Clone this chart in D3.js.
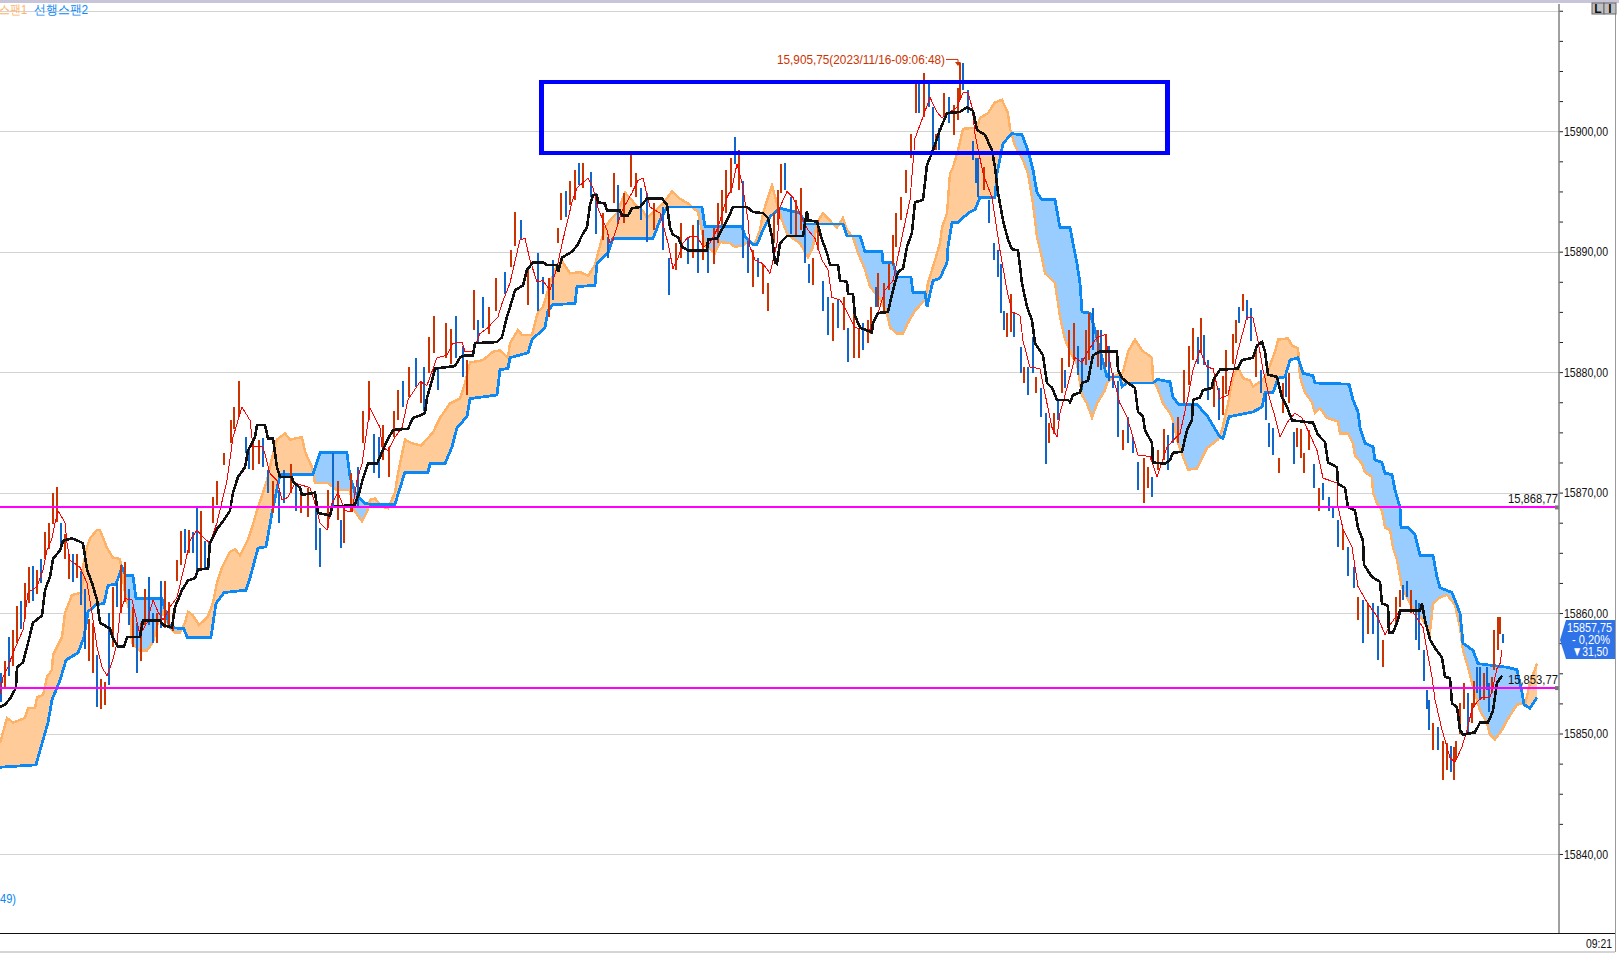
<!DOCTYPE html>
<html><head><meta charset="utf-8">
<script src="https://cdn.jsdelivr.net/npm/d3@7"></script>
<style>
html,body{margin:0;padding:0;background:#fff;overflow:hidden}
svg{display:block}
text{font-family:"Liberation Sans",sans-serif}
</style></head><body><svg id="c" width="1619" height="953"></svg>
<script>
// all prices are stored relative to this base
const priceBase = 15800;
const axisPrices = [40,42.5,45,47.5,50,52.5,55,57.5,60,62.5,65,67.5,70,72.5,75,77.5,80,82.5,85,87.5,90,92.5,95,97.5,100,102.5,105,107.5,110];
const levelPrices = [68.77,53.77];
const levelLabels = ["15,868,77","15,853,77"];
const peakPrice = 105.75, peakTick = 958;
const peakLabel = "15,905,75(2023/11/16-09:06:48)";
const boxTicks = [541.5,1167.5], boxPrices = [104.1,98.2];
const tagLines = ["15857,75","- 0,20%","\u25BC31,50"];

const span2Tick = [0,36,40,48,52,60,66,78,84,88,96,104,108,116,122,126,133,136,162,170,184,187,211,216,224,246,250,258,266,272,280,313,320,347,350,355,365,372,395,397,405,428,430,445,452,457,467,470,497,500,508,510,528,532,545,548,553,575,577,595,597,608,613,653,660,667,702,705,742,745,753,757,763,770,780,800,805,843,847,860,865,882,883,893,897,911,913,925,927,933,940,947,948,952,958,968,975,980,995,997,1003,1012,1022,1028,1033,1037,1042,1055,1060,1070,1077,1080,1082,1090,1095,1100,1107,1120,1122,1127,1153,1157,1170,1173,1179,1197,1207,1220,1223,1229,1253,1262,1265,1273,1278,1285,1290,1298,1303,1313,1315,1349,1353,1358,1360,1365,1373,1375,1382,1385,1392,1395,1400,1401,1408,1415,1420,1433,1437,1440,1452,1460,1463,1473,1478,1507,1517,1522,1524,1530,1537];
const span2Price = [47.2,47.4,48.6,50.9,52.8,54.4,56.1,56.7,58.0,60.1,60.7,60.8,62.3,62.4,63.8,63.1,63.1,61.2,61.2,58.8,58.7,58.0,58.0,60.8,61.7,61.9,62.9,65.4,65.5,68.3,71.5,71.5,73.3,73.3,71.3,70.0,69.1,69.0,69.0,69.6,71.7,71.7,72.4,72.4,73.8,75.4,76.3,77.8,78.1,80.2,80.3,81.2,81.6,82.7,83.7,85.1,85.6,85.7,87.1,87.2,89.0,89.9,91.1,91.1,92.6,93.7,93.7,92.1,92.1,91.3,90.6,90.6,91.8,92.9,93.6,93.2,92.3,92.3,91.3,91.3,90.0,90.0,89.1,89.1,87.9,87.9,86.6,86.6,85.4,87.6,87.8,89.1,90.4,92.4,92.4,93.2,93.5,94.5,94.5,96.5,99.0,99.8,99.7,98.4,96.8,94.9,94.3,94.3,92.0,92.0,89.0,87.4,85.0,84.9,83.5,81.8,79.6,79.6,78.8,79.1,79.1,79.4,79.2,77.9,77.3,77.3,76.4,74.6,74.5,76.3,76.7,77.1,78.3,78.3,79.5,79.6,81.0,81.2,79.9,79.7,79.1,79.0,77.7,76.7,75.4,74.1,73.8,72.7,72.5,71.6,71.5,70.2,68.8,67.1,67.1,66.5,64.8,64.8,63.0,62.1,61.7,60.0,57.5,56.9,55.8,55.5,55.3,53.4,52.4,52.1,53.0];

const span1Tick = [0,7,13,25,28,35,37,43,47,52,53,62,65,72,82,83,87,90,97,100,107,113,120,122,125,130,132,140,147,153,158,163,170,175,180,185,188,193,199,208,213,217,222,230,235,240,248,252,258,263,267,272,277,285,290,302,305,312,315,328,337,350,353,362,367,370,375,383,388,395,398,405,412,421,433,440,450,460,465,470,483,493,500,508,510,518,522,532,535,538,543,550,557,563,570,580,588,595,600,605,610,617,625,632,635,643,647,655,663,672,680,688,698,705,715,720,730,735,742,748,755,760,763,768,772,777,782,787,793,800,808,813,817,823,832,837,843,847,853,858,865,870,880,887,890,897,903,908,915,925,928,935,940,942,947,950,953,958,963,977,980,988,995,1002,1008,1010,1015,1023,1028,1033,1037,1042,1045,1055,1060,1065,1073,1077,1082,1087,1092,1097,1105,1107,1113,1123,1128,1135,1142,1152,1153,1157,1163,1170,1173,1178,1183,1188,1197,1207,1218,1222,1228,1233,1238,1243,1250,1253,1262,1267,1275,1278,1288,1292,1298,1300,1305,1312,1315,1320,1327,1338,1340,1348,1353,1355,1362,1365,1372,1373,1377,1382,1385,1390,1393,1397,1402,1410,1423,1430,1433,1440,1447,1455,1460,1463,1468,1473,1480,1487,1490,1495,1502,1507,1517,1523,1525,1530,1537];
const span1Price = [49.2,51.3,50.9,51.3,52.1,52.1,53.0,53.2,54.7,55.3,56.5,58.0,60.0,61.5,61.7,63.8,65.5,66.2,66.9,66.9,65.4,64.6,64.5,63.3,61.7,60.0,57.5,56.9,56.9,57.6,59.2,60.1,58.8,58.4,58.4,59.2,60.1,59.8,59.0,59.7,60.9,62.5,63.8,65.1,65.3,64.8,66.1,67.1,68.8,70.0,71.0,72.9,74.4,74.9,74.4,74.6,73.4,72.1,70.8,70.8,70.2,70.2,68.7,67.6,68.4,69.4,69.5,68.8,68.7,70.0,71.6,74.4,74.1,73.9,75.0,76.2,77.4,77.8,79.1,80.8,81.0,81.7,81.8,81.2,82.4,83.5,83.1,83.1,84.1,85.0,85.4,87.4,88.9,89.1,88.2,88.3,88.0,88.9,90.5,92.0,92.6,93.2,94.9,94.3,93.9,93.4,92.8,93.4,94.0,95.0,94.4,94.0,93.3,90.5,89.9,90.8,90.7,90.4,90.5,90.8,90.7,91.8,93.2,94.5,95.5,94.0,92.6,91.5,91.1,90.7,89.5,90.4,92.4,93.2,92.4,92.0,92.8,91.8,91.2,89.9,88.5,87.1,86.1,84.9,83.7,83.2,83.2,84.1,85.1,86.0,87.4,89.3,90.7,92.0,93.2,96.5,97.0,98.4,100.2,100.3,101.1,101.5,102.4,102.6,101.5,100.2,98.8,97.6,96.5,94.0,91.2,89.5,88.2,87.4,84.6,82.7,81.2,80.7,78.1,77.4,76.2,77.4,78.5,79.1,79.6,80.0,81.7,82.7,81.8,81.2,79.2,78.8,77.4,76.6,76.0,74.1,73.0,71.9,72.0,73.7,74.4,75.2,77.4,79.6,80.4,79.5,79.3,78.8,79.3,79.9,81.7,82.7,82.8,82.2,82.0,79.6,78.3,77.5,76.6,77.0,76.2,75.9,74.9,74.9,74.1,73.1,72.4,71.7,71.3,70.0,69.1,68.5,67.1,66.9,65.4,64.4,62.1,60.8,59.4,58.4,60.8,61.3,61.5,60.7,58.8,56.9,55.5,53.9,51.9,50.9,49.9,49.5,50.3,51.1,52.4,52.5,52.4,54.2,55.8];

const baseTick = [0,5,10,16,17,23,28,33,42,45,50,53,60,63,72,78,83,87,92,97,100,110,113,118,124,127,140,143,160,163,172,175,182,188,195,198,208,210,217,222,230,233,238,245,248,255,257,265,268,273,277,280,292,293,300,302,315,318,330,332,355,360,363,368,377,387,393,408,413,420,425,427,432,435,455,460,465,473,475,497,502,507,513,515,523,527,533,543,547,557,558,562,572,577,583,587,590,593,597,598,605,607,620,622,628,632,640,647,662,667,670,673,678,682,688,707,708,717,727,733,747,753,763,768,772,775,777,780,787,803,807,808,817,822,827,830,838,840,847,848,853,855,860,872,873,878,888,893,898,903,907,912,915,923,927,932,940,947,960,967,973,977,985,992,995,998,1003,1008,1012,1018,1022,1027,1032,1035,1043,1047,1052,1057,1068,1070,1073,1080,1082,1088,1093,1100,1117,1118,1122,1128,1135,1138,1143,1145,1152,1153,1165,1170,1173,1182,1187,1192,1193,1200,1203,1212,1213,1220,1238,1242,1253,1257,1262,1265,1268,1277,1282,1287,1292,1313,1318,1325,1328,1337,1338,1345,1348,1355,1358,1363,1364,1372,1380,1382,1388,1389,1393,1398,1400,1420,1422,1425,1430,1435,1442,1445,1450,1452,1457,1460,1463,1475,1480,1488,1493,1497,1502];
const basePrice = [52.2,52.4,52.9,53.8,55.5,55.9,57.5,59.2,59.8,61.9,63.0,64.5,65.2,66.0,66.2,66.0,65.8,63.6,62.5,61.1,59.2,58.7,57.9,57.2,57.2,58.0,58.0,59.4,59.4,59.0,58.8,60.5,61.9,62.7,62.9,63.6,63.7,65.8,67.0,67.5,68.5,70.0,71.3,72.1,73.5,74.6,75.6,75.6,74.5,74.5,72.1,71.3,71.3,70.9,70.4,69.8,70.0,68.3,68.1,68.8,69.0,70.2,71.2,72.4,72.4,74.3,75.2,75.3,76.2,76.4,76.6,77.9,79.3,80.3,80.5,81.2,81.4,81.4,82.4,82.5,82.9,84.6,86.2,86.8,87.2,88.5,89.1,89.1,88.9,88.9,88.3,89.5,90.0,90.5,91.5,92.0,93.9,94.7,94.7,94.1,94.0,93.4,93.4,93.0,93.0,93.6,93.7,94.4,94.4,93.9,92.0,91.4,91.2,90.4,90.1,90.1,91.0,91.1,92.6,93.7,93.7,93.3,93.2,92.8,91.2,89.1,89.0,90.7,91.3,91.3,93.4,92.6,92.5,91.0,89.9,88.9,88.9,87.6,87.5,86.5,86.5,84.7,83.7,83.3,84.1,84.9,85.0,86.8,88.3,88.6,90.4,91.6,94.1,94.3,97.2,98.2,100.1,101.5,101.6,102.0,101.7,100.1,99.7,98.4,97.0,94.9,92.6,91.0,90.2,90.1,87.4,85.4,84.3,82.4,81.4,79.1,78.7,77.7,77.7,77.5,78.1,78.3,79.1,79.3,81.4,81.7,81.7,80.2,79.5,79.1,78.7,76.7,76.3,75.2,74.1,72.5,72.4,72.7,73.3,73.4,75.2,76.0,77.7,77.9,78.5,78.7,79.3,80.2,80.3,81.0,81.2,82.2,82.5,81.7,79.8,79.6,77.9,77.1,76.0,75.8,74.8,74.2,72.5,72.1,70.7,70.4,68.8,68.5,67.1,66.0,64.0,63.0,62.6,60.8,60.6,58.4,58.4,59.4,60.2,60.2,60.8,59.4,57.8,57.1,56.3,54.7,54.6,52.5,52.2,50.3,49.9,50.1,50.9,50.9,51.9,54.2,54.8];

const maTick = [0,3,8,13,23,28,37,43,47,52,55,58,65,67,70,80,87,92,97,102,107,112,117,120,125,132,140,147,153,158,163,170,177,185,190,197,203,210,217,223,227,233,242,250,253,263,270,277,282,288,295,310,315,320,327,332,338,345,352,357,362,370,380,382,388,395,402,408,420,427,437,447,453,462,465,473,480,488,498,502,510,520,525,530,537,543,550,557,563,572,577,588,593,598,603,607,610,613,622,632,638,643,650,660,668,673,678,683,688,697,703,710,718,727,732,737,742,748,750,755,763,770,777,780,787,793,802,808,815,822,828,832,840,847,855,865,870,877,885,893,900,905,910,915,923,930,937,942,948,957,963,968,972,975,983,992,1000,1007,1012,1020,1023,1030,1040,1047,1052,1057,1060,1067,1075,1082,1087,1097,1105,1112,1120,1127,1133,1138,1150,1157,1167,1180,1188,1193,1200,1207,1213,1220,1228,1238,1247,1253,1258,1263,1270,1275,1280,1287,1295,1302,1310,1317,1323,1337,1338,1343,1352,1358,1367,1378,1385,1390,1400,1412,1423,1427,1432,1435,1442,1450,1455,1462,1467,1472,1477,1482,1490,1493,1497,1500,1502];
const maPrice = [53.3,54.7,55.5,56.7,58.6,61.7,62.2,63.6,65.2,66.2,67.5,68.5,67.5,65.8,64.4,63.8,62.5,60.0,57.2,55.5,54.8,55.9,57.5,60.0,61.2,61.1,58.2,59.2,61.1,60.1,59.4,60.5,61.3,64.1,66.0,66.9,66.3,65.8,67.5,69.6,71.0,74.6,77.1,76.0,73.8,73.8,71.6,71.0,69.4,69.6,70.8,70.4,69.1,67.5,66.9,69.1,70.0,68.5,68.4,71.0,72.4,77.0,75.4,73.8,73.5,74.6,75.4,77.7,79.2,78.9,81.2,81.4,82.4,82.5,81.7,81.7,83.2,83.7,84.6,85.7,87.4,91.0,91.1,89.3,87.5,87.6,86.8,88.7,91.0,94.1,95.3,96.1,95.3,93.6,92.6,91.8,90.7,91.0,93.4,94.9,95.9,96.1,93.7,93.2,90.7,88.6,89.5,90.7,91.2,91.3,90.4,90.7,92.0,94.5,95.3,97.3,95.7,92.6,90.4,89.3,89.0,88.2,90.7,93.7,95.0,94.5,92.8,91.8,91.1,89.3,88.5,86.2,86.0,85.0,83.7,83.5,83.5,84.6,86.8,87.6,90.4,92.4,94.3,99.4,101.2,102.8,101.6,101.1,101.5,102.0,103.2,103.2,102.0,99.8,96.5,94.5,90.1,86.8,85.0,84.7,82.6,80.4,80.3,77.4,75.4,74.6,76.6,78.7,81.2,80.8,81.6,82.9,83.1,79.9,77.4,76.3,74.6,73.1,73.0,71.3,73.8,74.9,77.9,80.2,81.8,80.4,80.3,77.8,78.1,81.8,84.6,84.5,82.6,80.2,77.7,76.3,74.6,75.8,76.6,76.2,74.8,73.5,71.2,70.8,68.8,67.0,65.5,62.2,60.9,59.6,58.2,59.0,60.2,60.2,58.8,56.9,54.7,52.8,50.3,48.0,47.6,48.9,50.3,52.0,52.6,53.0,53.0,53.9,55.4,55.8,56.9];

const barTick = [0,4,8,12,16,20,24,28,32,36,
40,44,48,52,56,60,64,68,72,76,
80,84,88,92,96,100,104,108,112,116,
120,124,128,132,136,140,144,148,152,156,
160,164,168,172,176,180,184,188,192,196,
200,204,208,212,216,
223,230,233,238,245,248,252,258,262,267,
272,278,283,290,295,300,307,315,319,327,
332,337,340,343,350,357,362,368,373,378,
382,388,393,397,402,408,415,420,423,428,
433,437,445,450,455,462,466,473,477,482,
488,495,504,510,514,520,527,537,542,548,
552,557,560,565,569,574,578,582,590,595,
602,607,613,617,623,630,635,640,646,653,
662,668,675,680,687,692,697,702,707,713,
717,721,725,730,734,738,742,747,752,757,
762,767,773,777,780,784,790,795,800,804,
808,812,817,822,827,832,837,843,847,853,
858,862,867,870,875,877,883,888,892,895,
900,905,910,915,918,923,928,932,935,938,
943,948,953,957,959,962,967,972,975,977,
983,988,993,997,1000,1003,1006,1010,1013,1020,
1023,1027,1032,1035,1040,1045,1048,1053,1057,1061,
1064,1068,1073,1077,1081,1085,1088,1092,1097,1100,
1105,1108,1112,1117,1122,1127,1132,1137,1143,1147,
1151,1157,1163,1167,1172,1177,1183,1188,1192,1197,
1200,1203,1207,1213,1218,1222,1225,1232,1235,1238,
1242,1246,1250,1255,1260,1265,1268,1272,1278,1282,
1285,1288,1293,1296,1300,1303,1308,1313,1318,1322,
1328,1332,1337,1342,1347,1353,1357,1362,1367,1372,
1377,1382,1388,1395,1399,1402,1406,1410,1415,1418,
1423,1426,1428,1432,1437,1442,1446,1450,1453,1455,
1459,1463,1467,1471,1473,1476,1479,1483,1486,1488,
1491,1493,1497,1499,1502];
const barHigh = [55.0,56.0,58.0,58.6,60.6,61.0,62.5,63.8,63.9,63.6,
64.5,66.7,67.5,70.0,70.5,67.5,66.6,64.8,64.9,64.9,
63.5,62.0,59.5,59.2,56.5,54.5,54.3,60.0,62.2,62.5,
64.0,64.2,62.0,60.5,59.2,59.2,62.0,63.0,60.0,60.0,
62.7,62.7,60.9,60.0,64.4,66.8,67.0,66.9,66.7,68.7,
68.5,66.0,65.8,69.6,71.0,
73.3,76.0,77.1,79.3,74.6,73.8,74.4,74.4,74.5,71.9,
71.0,70.2,71.9,72.4,70.8,70.2,70.4,69.4,67.1,70.2,
73.3,71.0,67.7,68.8,71.6,72.1,76.8,79.3,74.9,74.6,
75.6,73.8,76.8,78.5,79.3,80.4,81.2,79.3,80.4,82.9,
84.7,80.4,84.1,83.6,84.7,82.2,81.0,86.8,84.3,86.2,
85.4,87.8,88.3,90.1,93.3,92.6,88.5,89.9,87.9,87.8,
89.3,92.0,94.9,95.0,95.9,96.8,97.4,97.4,96.6,94.9,
93.2,91.2,96.5,95.5,94.9,98.2,96.5,95.3,94.9,94.0,
93.7,89.5,90.7,92.4,91.2,92.2,92.6,91.8,90.7,92.0,
94.0,95.1,96.8,97.8,99.5,98.4,95.9,90.9,90.1,89.5,
89.0,87.4,93.2,95.1,97.3,97.4,94.5,94.3,95.3,92.2,
89.0,89.5,92.6,87.6,86.2,85.7,86.0,86.2,83.7,84.9,
83.7,84.1,84.3,85.4,87.1,88.2,87.4,89.0,91.4,93.2,
94.5,96.8,99.8,104.2,104.0,104.8,104.2,102.0,99.8,100.3,
103.2,102.8,102.2,103.6,105.7,105.7,103.4,99.2,97.8,97.8,
97.0,94.3,90.7,90.1,89.0,85.1,84.9,86.5,84.9,82.1,
80.4,80.4,82.9,79.6,78.7,76.6,75.8,76.6,77.7,81.2,
80.2,83.5,84.1,82.2,81.2,83.5,84.9,85.3,83.5,83.5,
83.2,82.2,79.9,79.3,75.2,76.3,74.6,72.5,72.9,72.1,
71.3,73.5,75.3,74.8,75.8,76.3,80.2,82.2,83.7,82.9,
84.5,83.1,81.0,79.3,78.7,79.7,81.8,83.2,84.3,85.4,
86.5,86.0,85.3,81.8,80.2,78.3,75.8,75.4,72.9,79.1,
79.6,79.9,75.0,75.4,75.3,73.3,75.2,72.4,70.4,70.8,
69.6,68.8,67.7,67.0,65.5,63.8,61.3,61.1,60.8,60.8,
60.6,57.8,60.2,61.3,61.9,62.3,62.7,61.9,61.1,60.8,
56.9,53.6,52.8,50.9,50.5,49.4,49.2,49.0,48.9,49.4,
52.5,54.2,53.4,52.5,54.4,55.5,55.5,55.0,55.5,54.2,
54.7,58.6,59.7,59.7,58.3];
const barLow = [52.6,53.8,54.8,55.6,57.5,58.7,59.5,60.8,61.0,61.6,
62.5,64.5,65.3,67.4,67.6,65.5,64.5,62.8,62.6,62.9,
60.7,57.0,56.0,55.0,52.2,52.0,52.4,54.0,57.2,60.5,
60.0,60.9,59.0,57.2,55.0,56.0,59.0,59.0,57.5,57.5,
58.8,58.8,58.8,58.5,62.7,64.0,65.0,65.0,65.0,63.5,
63.6,63.6,63.7,67.5,69.0,
72.3,74.1,75.3,76.3,73.3,72.0,71.9,72.4,72.1,70.0,
68.3,67.5,69.1,70.0,68.5,68.3,68.0,65.2,63.8,67.1,
68.8,67.7,65.4,65.8,68.5,68.8,74.1,76.0,71.6,71.2,
72.7,71.3,74.6,76.0,77.1,77.9,78.8,77.4,76.8,79.9,
81.6,78.5,81.2,80.7,81.2,79.6,78.1,83.5,82.5,83.7,
83.2,85.1,86.5,88.7,90.5,91.0,85.6,85.1,86.5,84.6,
86.0,90.7,92.6,92.9,93.9,94.3,95.5,95.3,94.5,91.5,
91.0,89.5,94.0,92.4,92.4,95.4,94.5,92.6,90.8,91.8,
90.1,86.4,88.5,89.5,89.0,89.5,88.2,89.3,88.2,89.0,
90.7,92.2,93.2,94.9,97.3,95.1,89.5,88.2,87.1,87.9,
86.5,85.1,90.7,92.2,94.9,95.1,91.5,91.4,91.8,89.1,
87.4,87.2,90.1,85.1,83.1,82.6,83.7,83.5,80.8,81.2,
81.2,81.8,82.4,83.2,85.4,85.4,84.9,86.8,88.9,90.4,
92.6,94.9,97.8,101.5,101.5,101.2,102.0,98.4,98.4,98.4,
101.2,100.7,99.7,100.9,102.6,103.4,101.5,97.6,95.7,94.5,
95.1,92.4,89.3,87.9,84.9,83.5,82.9,83.3,82.9,79.9,
79.1,78.1,79.9,78.3,76.3,72.4,74.1,74.9,76.0,78.3,
78.7,80.4,81.0,79.8,78.5,80.6,81.0,81.8,80.4,80.2,
80.4,79.3,78.7,74.6,73.5,74.1,73.3,70.2,69.1,70.4,
69.6,71.9,72.7,71.9,74.1,74.1,77.4,78.9,81.0,80.7,
81.6,80.6,77.7,77.1,76.0,76.4,78.2,80.7,82.4,84.1,
85.1,84.3,82.6,79.6,78.3,76.0,73.8,73.1,71.6,76.6,
77.9,77.4,72.4,73.8,72.9,71.6,73.5,70.4,68.5,69.4,
68.5,67.9,65.5,65.2,63.1,62.1,59.4,57.5,58.3,58.3,
56.1,55.5,58.6,59.2,60.5,61.1,61.3,60.0,57.8,56.9,
54.4,52.0,50.3,48.6,48.6,46.1,47.0,46.8,46.1,47.8,
50.0,52.0,49.9,50.9,52.2,53.4,52.8,52.8,53.6,51.8,
53.4,55.3,56.9,58.3,57.5];
const barDir = ("brbrrbrrbr"+"brrrrbrrbr"+"bbrrbrrbrb"+"rrbrbrrbbr"+"brrrrrbrbb"+"rbbrr"+
"rrrrbbrrbb"+"rbbrbrrbbr"+"brbrrbrrbb"+"rrrrbrbrbr"+"rbrrbbrrbb"+"rrbrrbrbbr"+"brrbrrbrbb"+
"rbrbrrrbbr"+"bbrrbrbrbr"+"rrrrbrbbrb"+"rrrrrbbrrb"+"brrbbrbrbr"+"rbrrbrrrrr"+"rrrrbrbbrb"+
"rbrrrbbbbb"+"rbbbbbrrbb"+"rbbrbbrrbr"+"brrbbrrbrb"+"rbbbrbbbrr"+"brrbbrrrrb"+"rbbrbrrrrb"+
"rbbrbbbbrr"+"brbrrrrbrb"+"bbbrbbrbrb"+"brrrrbbrbb"+"bbbrbrrbrr"+"rrbrrbbrbb"+"rrrrb").split("");

// ----- scales -----
const W = 1619, H = 953, plotRight = 1559, plotTop = 4, plotBottom = 933;
const x = d3.scaleLinear().domain([0,1559]).range([0,plotRight]);
const y = d3.scaleLinear().domain([110.56,33.44]).range([plotTop,plotBottom]);

const svg = d3.select("#c");
svg.append("rect").attr("width",W).attr("height",H).attr("fill","#fff");
const defs = svg.append("defs");
defs.append("clipPath").attr("id","plot").append("rect").attr("x",0).attr("y",plotTop).attr("width",plotRight).attr("height",plotBottom-plotTop);

// ----- gridlines -----
const majors = axisPrices.filter(d=>d%10===0);
svg.append("g").selectAll("line").data(majors).join("line")
  .attr("x1",0).attr("x2",plotRight).attr("y1",d=>Math.round(y(d))+.5).attr("y2",d=>Math.round(y(d))+.5)
  .attr("stroke","#d3d3d3").attr("stroke-width",1);

// ----- cloud -----
const zip = (t,p)=>t.map((d,i)=>[d,p[i]]);
const span1 = zip(span1Tick,span1Price), span2 = zip(span2Tick,span2Price);
const base = zip(baseTick,basePrice), ma = zip(maTick,maPrice);
const below = d3.area().x(d=>x(d[0])).y0(plotBottom).y1(d=>y(d[1]));
const above = d3.area().x(d=>x(d[0])).y0(plotTop).y1(d=>y(d[1]));
defs.append("clipPath").attr("id","aboveSpan2").append("path").attr("d",above(span2));
defs.append("clipPath").attr("id","aboveSpan1").append("path").attr("d",above(span1));
const cloud = svg.append("g").attr("clip-path","url(#plot)");
cloud.append("path").attr("d",below(span1)).attr("fill","#ffcc99").attr("clip-path","url(#aboveSpan2)");
cloud.append("path").attr("d",below(span2)).attr("fill","#99ccff").attr("clip-path","url(#aboveSpan1)");
const line = d3.line().x(d=>x(d[0])).y(d=>y(d[1]));
cloud.append("path").attr("d",line(span1)).attr("fill","none").attr("stroke","#ffb266").attr("stroke-width",2.4).attr("shape-rendering","crispEdges");
cloud.append("path").attr("d",line(span2)).attr("fill","none").attr("stroke","#0a88f5").attr("stroke-width",2.8).attr("shape-rendering","crispEdges");

// ----- price bars -----
const bars = barTick.map((t,i)=>({t,h:barHigh[i],l:barLow[i],d:barDir[i]}));
svg.append("g").attr("clip-path","url(#plot)").selectAll("line").data(bars).join("line")
  .attr("x1",d=>x(d.t)+.5).attr("x2",d=>x(d.t)+.5).attr("y1",d=>y(d.h)).attr("y2",d=>y(d.l))
  .attr("stroke",d=>d.d==="r"?"#cc3300":"#1166cc").attr("stroke-width",2).attr("shape-rendering","crispEdges");

// ----- moving lines -----
svg.append("path").attr("d",line(ma)).attr("fill","none").attr("stroke","#ff0000").attr("stroke-width",1).attr("shape-rendering","crispEdges");
svg.append("path").attr("d",line(base)).attr("fill","none").attr("stroke","#111").attr("stroke-width",2.6).attr("shape-rendering","crispEdges");

// ----- level lines -----
const lev = svg.append("g");
lev.selectAll("line").data(levelPrices).join("line")
  .attr("x1",0).attr("x2",plotRight-2).attr("y1",d=>y(d)).attr("y2",d=>y(d))
  .attr("stroke","#ff00ff").attr("stroke-width",2).attr("shape-rendering","crispEdges");
lev.selectAll("rect").data(levelPrices).join("rect")
  .attr("x",plotRight-4).attr("y",d=>y(d)-2).attr("width",4).attr("height",4).attr("fill","#777");
lev.selectAll("text").data(levelPrices).join("text")
  .attr("x",plotRight-51).attr("y",d=>y(d)-4)
  .attr("font-size",13.5).attr("fill","#111").attr("textLength",50).attr("lengthAdjust","spacingAndGlyphs").text((d,i)=>levelLabels[i]);

// ----- annotation box -----
svg.append("rect").attr("x",x(boxTicks[0])).attr("width",x(boxTicks[1])-x(boxTicks[0]))
  .attr("y",y(boxPrices[0])).attr("height",y(boxPrices[1])-y(boxPrices[0]))
  .attr("fill","none").attr("stroke","#0000ff").attr("stroke-width",4.6).attr("shape-rendering","crispEdges");

// ----- peak annotation -----
const peakG = svg.append("g");
const py = y(peakPrice), px = x(peakTick);
peakG.append("text").attr("x",px-181).attr("y",py+2.5)
  .attr("font-size",13.5).attr("fill","#cc3300").attr("textLength",168).attr("lengthAdjust","spacingAndGlyphs").text(peakLabel);
peakG.append("path").attr("d",`M${px-12},${py-2.5}H${px}V${py+2}`).attr("fill","none").attr("stroke","#cc3300");
peakG.append("path").attr("d",`M${px-3},${py}H${px+3}L${px},${py+4}Z`).attr("fill","#cc3300");

// ----- right axis -----
const axis = d3.axisRight(y).tickValues(axisPrices).tickSize(4).tickPadding(1)
  .tickFormat(d=>(d%10===0&&d<110)?`${d+priceBase},00`:"");
const ag = svg.append("g").attr("transform",`translate(${plotRight},0)`).call(axis);
ag.select(".domain").remove();
ag.selectAll("line").attr("stroke","#222").attr("stroke-width",1);
ag.selectAll("text").attr("font-size",13.5).attr("fill","#111")
  .attr("font-family",'"Liberation Sans",sans-serif')
  .filter(d=>d%10===0&&d<110).attr("textLength",44).attr("lengthAdjust","spacingAndGlyphs");
svg.append("line").attr("x1",plotRight).attr("x2",plotRight).attr("y1",plotTop).attr("y2",plotBottom)
  .attr("stroke","#808080").attr("stroke-width",1.5);

// ----- current price tag -----
const tagX = [1567,1572,1572], tagLen = [45,38,36];
svg.append("path").attr("d","M1560,640L1566,620H1615V659H1566Z").attr("fill","#2f73e8");
svg.append("g").selectAll("text").data(tagLines).join("text")
  .attr("x",(d,i)=>tagX[i]).attr("y",(d,i)=>632+i*12)
  .attr("font-size",13.5).attr("fill","#fff").attr("textLength",(d,i)=>tagLen[i]).attr("lengthAdjust","spacingAndGlyphs").text(d=>d);

// ----- frame -----
svg.append("rect").attr("x",0).attr("y",0).attr("width",W).attr("height",3).attr("fill","#c9c5d9");
svg.append("line").attr("x1",0).attr("x2",1615).attr("y1",933.5).attr("y2",933.5).attr("stroke","#111");
svg.append("line").attr("x1",1615.5).attr("x2",1615.5).attr("y1",3).attr("y2",952).attr("stroke","#999");
svg.append("line").attr("x1",0).attr("x2",1615).attr("y1",952).attr("y2",952).attr("stroke","#aaa");
svg.append("text").attr("x",1586).attr("y",948).attr("font-size",13.5).attr("fill","#111").attr("textLength",26).attr("lengthAdjust","spacingAndGlyphs").text("09:21");
const btn = svg.append("g");
["L","I"].forEach((s,i)=>{
  const bx = 1592+i*12;
  btn.append("rect").attr("x",bx).attr("y",3).attr("width",12).attr("height",11).attr("fill","#c0c0c0").attr("stroke","#666");
  btn.append("text").attr("x",bx+6).attr("y",13).attr("text-anchor","middle").attr("font-size",12).attr("font-weight",700).attr("fill","#111").text(s);
});

// ----- legend -----
const kr = '"Noto Sans CJK KR",sans-serif';
svg.append("text").attr("x",-1).attr("y",14).attr("font-size",13).attr("font-family",kr).attr("fill","#ffb266").attr("textLength",28).attr("lengthAdjust","spacingAndGlyphs").text("스팬1");
svg.append("text").attr("x",34).attr("y",14).attr("font-size",13).attr("font-family",kr).attr("fill","#0a88f5").attr("textLength",54).attr("lengthAdjust","spacingAndGlyphs").text("선행스팬2");
svg.append("text").attr("x",0).attr("y",903).attr("font-size",13.5).attr("fill","#0a88f5").attr("textLength",16).attr("lengthAdjust","spacingAndGlyphs").text("49)");
</script></body></html>
